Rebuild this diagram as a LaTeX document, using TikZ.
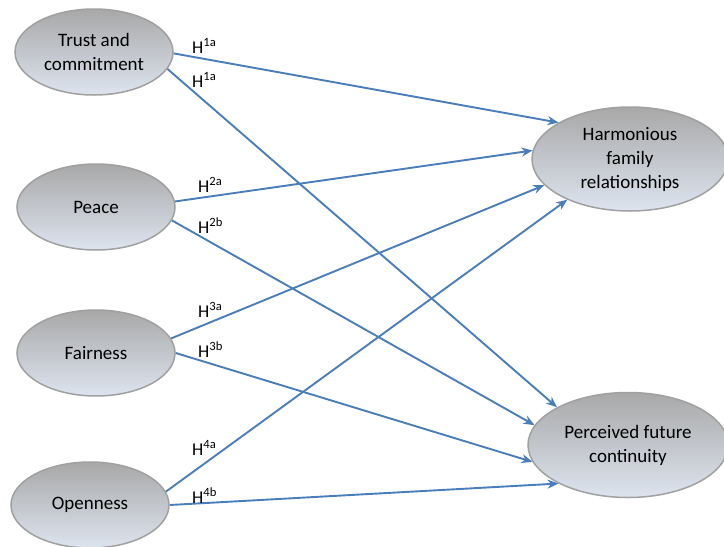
\documentclass[tikz,border=0pt]{standalone}
\usepackage{fontspec}
\setmainfont{Carlito}
\usetikzlibrary{shapes.geometric,arrows.meta}
\definecolor{linkblue}{HTML}{4A7EBB}
\definecolor{ellborder}{HTML}{A0A0A0}
\definecolor{elltop}{HTML}{A8A8A8}
\definecolor{ellbot}{HTML}{DDE4EF}
\begin{document}
\begin{tikzpicture}[x=1pt,y=1pt,
  ell/.style={ellipse, draw=ellborder, line width=1.5pt, top color=elltop, bottom color=ellbot,
    minimum width=158pt, minimum height=86pt, inner sep=0pt, align=center,
    font=\fontsize{19}{24}\selectfont},
  bigell/.style={ell, minimum width=196pt, minimum height=104pt},
  link/.style={draw=linkblue, line width=1.9pt, -{Stealth[length=11pt,width=9pt]}},
  hlab/.style={font=\fontsize{18}{20}\selectfont, inner sep=0pt, anchor=base west}]
\useasboundingbox (0,0) rectangle (724,-547);
\node[ell] (trust) at (94,-52) {Trust and\\commitment};
\node[ell] (peace) at (96,-207) {Peace};
\node[ell] (fair) at (96,-353) {Fairness};
\node[ell] (open) at (90,-505) {Openness};
\node[bigell] (harm) at (630,-159) {Harmonious\\family\\relationships};
\node[bigell, minimum width=200pt, minimum height=105pt] (perc) at (628,-445) {Perceived future\\continuity};
\draw[link] (trust.-1) -- (harm.153);
\draw[link] (trust.-13) -- (perc.152);
\draw[link] (peace.4) -- (harm.175);
\draw[link] (peace.-10) -- (perc.168);
\draw[link] (fair.11) -- (harm.197);
\draw[link] (fair.0) -- (perc.190);
\draw[link] (open.10) -- (harm.213);
\draw[link] (open.0) -- (perc.209);
\node[hlab] (l1) at (192,-53) {H\textsuperscript{1a}};
\node[hlab] (l2) at (192,-87) {H\textsuperscript{1a}};
\node[hlab] (l3) at (198,-192) {H\textsuperscript{2a}};
\node[hlab] (l4) at (198,-233) {H\textsuperscript{2b}};
\node[hlab] (l5) at (198,-317) {H\textsuperscript{3a}};
\node[hlab] (l6) at (198,-357) {H\textsuperscript{3b}};
\node[hlab] (l7) at (192,-455) {H\textsuperscript{4a}};
\node[hlab] (l8) at (192,-503) {H\textsuperscript{4b}};
\end{tikzpicture}
\end{document}
